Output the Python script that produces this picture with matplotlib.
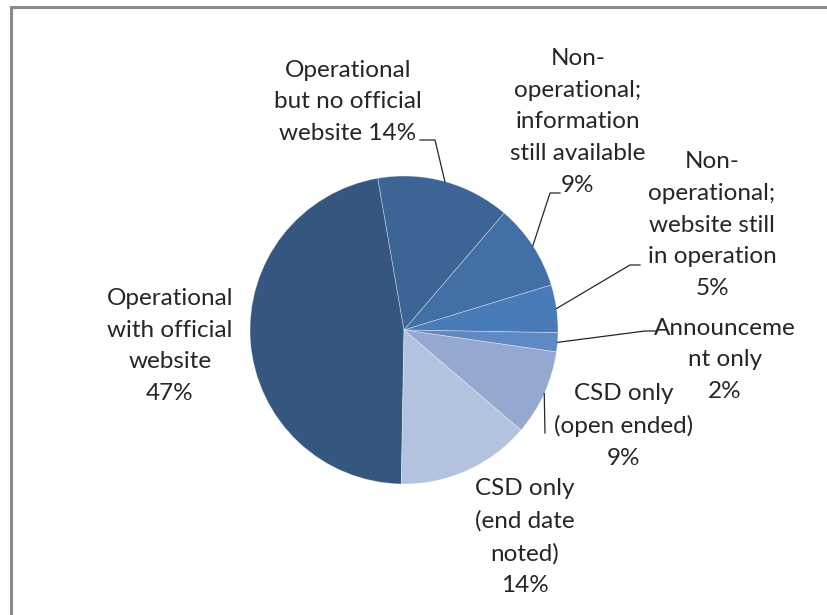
import matplotlib
matplotlib.use('Agg')
import matplotlib.pyplot as plt
import numpy as np
from matplotlib.patches import Rectangle

plt.rcParams['font.family'] = ['Lato', 'DejaVu Sans']

# categories and shares (%), in clockwise order
labels = ['Operational\nwith official\nwebsite',
          'Operational\nbut no official\nwebsite',
          'Non-\noperational;\ninformation\nstill available',
          'Non-\noperational;\nwebsite still\nin operation',
          'Announceme\nnt only',
          'CSD only\n(open ended)',
          'CSD only\n(end date\nnoted)']
shares = [47, 14, 9, 5, 2, 9, 14]
colors = ['#34567f', '#3c6494', '#4270a6', '#4a7bb9', '#5f89c3', '#95a8d0', '#b3c2de']

# pixel layout helpers (pie centre and radius in pixels)
cx, cy, R = 404, 330, 154
W, H = 828, 615


def px(x, y):
    return ((x - cx) / R, (cy - y) / R)


fig = plt.figure(figsize=(W / 100, H / 100), dpi=100)
ax = fig.add_axes([0, 0, 1, 1])

wedges, _ = ax.pie(shares, colors=colors, startangle=-91, counterclock=False,
                   radius=1, wedgeprops=dict(edgecolor=(1, 1, 1, 0.45), linewidth=0.5))
ax.set_xlim(-cx / R, (W - cx) / R)
ax.set_ylim(-(H - cy) / R, cy / R)
ax.set_aspect('auto')
ax.axis('off')

# text centres (px) and leader line ends (text end, elbow) in px, None = no leader
text_pos = [(170, 346), (348, 102), (578, 122), (712, 225), (725, 360), (624, 426), (525, 537)]
leaders = [None,
           [(420, 140), (435, 140)],
           [(560, 193), (550, 193)],
           [(640, 265), (630, 265)],
           [(657, 331), (645, 331)],
           [(545, 433), (545, 433)],
           None]

tc = '#262626'
for w, lab, s, tp, ld in zip(wedges, labels, shares, text_pos, leaders):
    if lab.endswith('website') and s == 14:
        txt = lab + ' ' + str(s) + '%'
    else:
        txt = lab + '\n' + str(s) + '%'
    x, y = px(*tp)
    ax.text(x, y, txt, ha='center', va='center', fontsize=17.5, color=tc, linespacing=1.63)
    if ld is not None:
        mid = np.deg2rad((w.theta1 + w.theta2) / 2)
        ex, ey = np.cos(mid), np.sin(mid)
        p1 = px(*ld[0])
        p2 = px(*ld[1])
        ax.plot([p1[0], p2[0], ex], [p1[1], p2[1], ey], color='#262626', lw=0.9)

# chart area frame
fig.patches.append(Rectangle((11 / W, -0.1), 1.2, 1.1 - 7 / H, transform=fig.transFigure,
                             fill=False, edgecolor='#8a8a8a', linewidth=2.2))

fig.savefig('out.png', dpi=100, facecolor='white')
